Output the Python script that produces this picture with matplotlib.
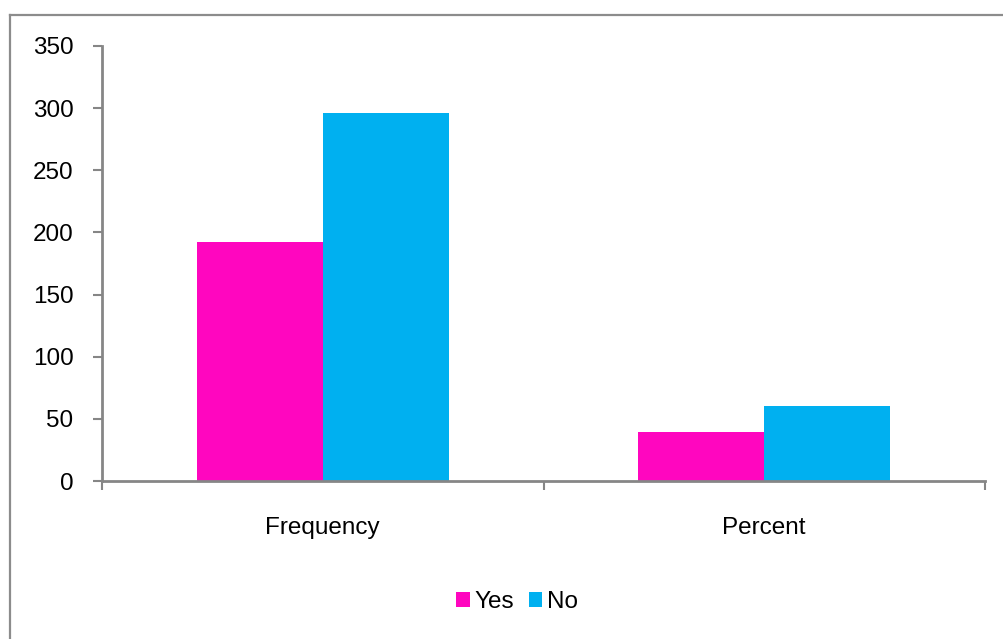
import matplotlib
matplotlib.use("Agg")
import matplotlib.pyplot as plt
from matplotlib.lines import Line2D
import numpy as np

plt.rcParams['font.family'] = ['Liberation Sans Narrow', 'Liberation Sans', 'DejaVu Sans']

categories = ["Frequency", "Percent"]
yes_values = [192, 39.3]
no_values = [296, 60.7]
series_labels = ["Yes", "No"]
y_ticks = [0, 50, 100, 150, 200, 250, 300, 350]

pink = "#FF06BF"
blue = "#00B0F0"
axis_gray = "#868686"
fs = 17.5

fig = plt.figure(figsize=(10.04, 6.39), dpi=100)
ax = fig.add_axes([102 / 1004, 1 - 481 / 639, (985 - 102) / 1004, (481 - 46) / 639])

x = np.arange(len(categories))
w = 0.2855
ax.bar(x - w / 2, yes_values, w, color=pink, label=series_labels[0])
ax.bar(x + w / 2, no_values, w, color=blue, label=series_labels[1])

ax.set_xlim(-0.5, len(categories) - 0.5)
ax.set_ylim(0, 350)
ax.set_yticks(y_ticks)
ax.tick_params(axis='y', labelsize=fs, length=6.5, width=1.5, color=axis_gray, pad=14)

# Category boundaries as major ticks, names as minor ticks
ax.set_xticks(np.arange(-0.5, len(categories), 1.0))
ax.set_xticklabels([])
ax.set_xticks(x, minor=True)
ax.set_xticklabels(categories, minor=True)
ax.tick_params(axis='x', which='major', length=6.5, width=1.5, color=axis_gray)
ax.tick_params(axis='x', which='minor', length=0, labelsize=fs, pad=26)

for side in ("top", "right"):
    ax.spines[side].set_visible(False)
for side in ("left", "bottom"):
    ax.spines[side].set_color(axis_gray)
    ax.spines[side].set_linewidth(2)

# Outer chart frame
fx0 = 9.5 / 1004
fy1 = 1 - 14.5 / 639
fig.add_artist(Line2D([fx0, fx0], [0, fy1], transform=fig.transFigure,
                      color="#8C8C8C", linewidth=1.6))
fig.add_artist(Line2D([fx0, 1.0], [fy1, fy1], transform=fig.transFigure,
                      color="#8C8C8C", linewidth=1.6))

fig.legend(loc="center", bbox_to_anchor=(517 / 1004, 1 - 602 / 639), ncol=2,
           frameon=False, fontsize=fs, handlelength=0.55, handleheight=0.55,
           handletextpad=0.2, columnspacing=0.6)

fig.savefig("out.png", dpi=100)
